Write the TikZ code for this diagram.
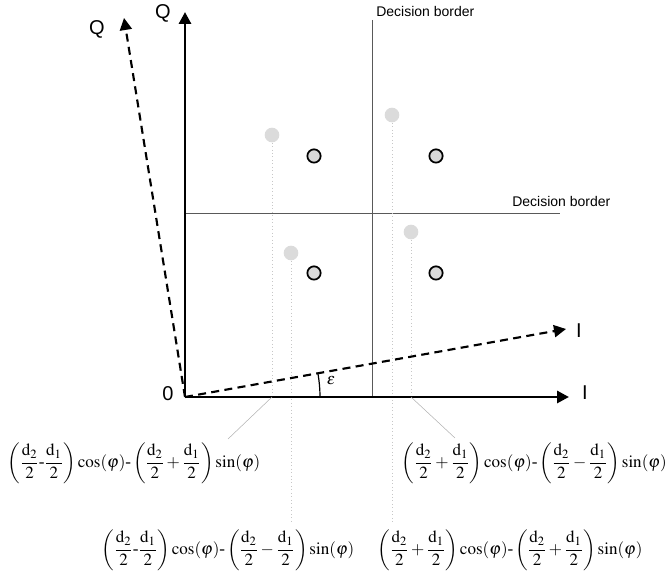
\documentclass[tikz,border=0pt]{standalone}
\usepackage{mathptmx}
\usepackage{fontspec}
\setmainfont{Liberation Serif}
\newfontfamily\labelfont{Liberation Sans}
\usetikzlibrary{arrows.meta}
\begin{document}
\begin{tikzpicture}[x=0.75pt,y=-0.75pt,
  axis/.style={line width=2.2pt,-{Triangle[width=9pt,length=9pt]}},
  daxis/.style={line width=1.6pt,dash pattern=on 6pt off 4pt,-{Triangle[width=9pt,length=9pt]}},
  border/.style={line width=0.7pt,draw=black!65},
  axlabel/.style={font=\labelfont\fontsize{15}{15}\selectfont,inner sep=0pt},
  bordlabel/.style={font=\labelfont\fontsize{10.5}{11}\selectfont,inner sep=0pt},
  sym/.style={circle,draw=black,line width=1.3pt,fill=black!15,minimum size=10pt,inner sep=0pt},
  rx/.style={circle,fill=black!14,minimum size=11pt,inner sep=0pt},
  drop/.style={draw=black!22,dotted,line width=0.6pt},
  lead/.style={draw=black!30,line width=0.4pt},
  formula/.style={inner sep=0pt,font=\fontsize{12.8}{15}\selectfont}
]
\useasboundingbox (0,0) rectangle (669,577);
\coordinate (O) at (185,397);
\coordinate (Qtip) at (185,12);
\coordinate (Itip) at (569,397);
\coordinate (Qd) at (124,18);
\coordinate (Id) at (566,329);

% decision borders
\coordinate (vb1) at (372,20);
\coordinate (vb2) at (372,397);
\coordinate (hb1) at (185,213);
\coordinate (hb2) at (560,213);
\draw[border] (vb1) -- (vb2);
\draw[border] (hb1) -- (hb2);
\node[bordlabel,anchor=base west] (vbl) at (376,17) {Decision border};
\node[bordlabel,anchor=base west] (hbl) at (512,207) {Decision border};

% received points and drop lines
\node[rx] (r1) at (272,135) {};
\node[rx] (r2) at (392,115) {};
\node[rx] (r3) at (291,253) {};
\node[rx] (r4) at (411,232) {};
\coordinate (d1) at (272,397);
\coordinate (d2) at (392,523);
\coordinate (d3) at (291,523);
\coordinate (d4) at (411,397);
\draw[drop] (r1) -- (d1);
\draw[drop] (r2) -- (d2);
\draw[drop] (r3) -- (d3);
\draw[drop] (r4) -- (d4);

% symbols
\node[sym] (s1) at (314,156) {};
\node[sym] (s2) at (436,156) {};
\node[sym] (s3) at (314,273) {};
\node[sym] (s4) at (436,273) {};

% axes
\draw[axis] (O) -- (Qtip);
\draw[axis] (O) -- (Itip);
\draw[daxis] (O) -- (Qd);
\draw[daxis] (O) -- (Id);
\node[axlabel] (Ql) at (163,13) {Q};
\node[axlabel] (Qdl) at (97,29) {Q};
\node[axlabel] (Il) at (585,393) {I};
\node[axlabel] (Idl) at (579,331) {I};
\node[axlabel] (Ol) at (168,394) {0};

% angle
\draw[line width=0.9pt] (320,397) arc[start angle=0,end angle=10.1,radius=101.25pt];
\node[inner sep=0pt,font=\fontsize{12}{12}\selectfont] (eps) at (331,381) {$\varepsilon$};

% formulas
\coordinate (l1) at (228,439);
\coordinate (l4) at (455,438);
\draw[lead] (d1) -- (l1);
\draw[lead] (d4) -- (l4);
\node[formula] (f1) at (134,463) {$\displaystyle\left(\frac{\mathrm{d}_2}{2}\mbox{-}\frac{\mathrm{d}_1}{2}\right)\cos(\varphi)\mbox{-}\left(\frac{\mathrm{d}_2}{2}+\frac{\mathrm{d}_1}{2}\right)\sin(\varphi)$};
\node[formula,anchor=east] (f4) at (667,463) {$\displaystyle\left(\frac{\mathrm{d}_2}{2}+\frac{\mathrm{d}_1}{2}\right)\cos(\varphi)\mbox{-}\left(\frac{\mathrm{d}_2}{2}-\frac{\mathrm{d}_1}{2}\right)\sin(\varphi)$};
\node[formula] (f3) at (228,550) {$\displaystyle\left(\frac{\mathrm{d}_2}{2}\mbox{-}\frac{\mathrm{d}_1}{2}\right)\cos(\varphi)\mbox{-}\left(\frac{\mathrm{d}_2}{2}-\frac{\mathrm{d}_1}{2}\right)\sin(\varphi)$};
\node[formula] (f2) at (510,550) {$\displaystyle\left(\frac{\mathrm{d}_2}{2}+\frac{\mathrm{d}_1}{2}\right)\cos(\varphi)\mbox{-}\left(\frac{\mathrm{d}_2}{2}+\frac{\mathrm{d}_1}{2}\right)\sin(\varphi)$};
\end{tikzpicture}
\end{document}
